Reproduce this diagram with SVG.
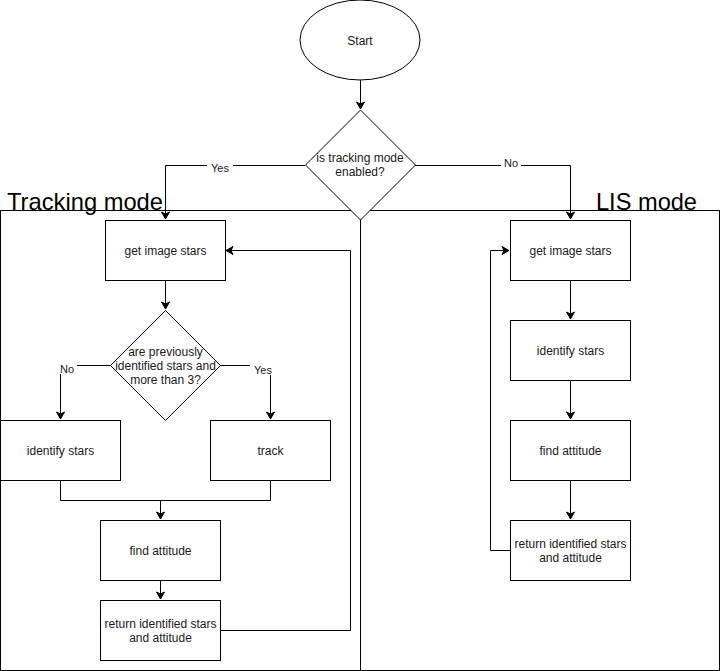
<svg xmlns="http://www.w3.org/2000/svg" width="721" height="671" viewBox="0 0 721 671">
<defs>
<style>
.s{fill:#fff;stroke:#000;stroke-width:1}
.t{font-family:"Liberation Sans",Arial,sans-serif;font-size:12px;fill:#1a1a1a;text-anchor:middle}
.l{font-family:"Liberation Sans",Arial,sans-serif;font-size:11px;fill:#1a1a1a;text-anchor:middle}
.h{font-family:"Liberation Sans",Arial,sans-serif;font-size:24px;fill:#000}
.c{fill:none;stroke:#000;stroke-width:1}
</style>
<marker id="a" markerWidth="10" markerHeight="10" refX="8" refY="5" orient="auto" markerUnits="userSpaceOnUse">
<path d="M1,1 L8,5 L1,9 L3,5 Z" fill="#000" stroke="#000"/>
</marker>
</defs>
<rect width="721" height="671" fill="#fff"/>
<g id="lanes">
<rect x="0.5" y="210.5" width="719" height="460" fill="none" stroke="#000"/>
<path d="M360.5,210.5 V670.5" fill="none" stroke="#000"/>
<text class="h" x="7" y="210" textLength="156" lengthAdjust="spacingAndGlyphs">Tracking mode</text>
<text class="h" x="596" y="210" textLength="101" lengthAdjust="spacingAndGlyphs">LIS mode</text>
</g>
<g id="connectors">
<path class="c" d="M360.5,80 V109" marker-end="url(#a)"/>
<path class="c" d="M305,165.5 H165.5 V219" marker-end="url(#a)"/>
<path class="c" d="M415,165.5 H570.5 V219" marker-end="url(#a)"/>
<path class="c" d="M165.5,280 V309" marker-end="url(#a)"/>
<path class="c" d="M110,365.5 H60.5 V419" marker-end="url(#a)"/>
<path class="c" d="M220,365.5 H270.5 V419" marker-end="url(#a)"/>
<path class="c" d="M60.5,480 V500.5 H270.5 V480"/>
<path class="c" d="M160.5,500.5 V519" marker-end="url(#a)"/>
<path class="c" d="M160.5,580 V599" marker-end="url(#a)"/>
<path class="c" d="M220,630.5 H350.5 V250.5 H226" marker-end="url(#a)"/>
<path class="c" d="M570.5,280 V319" marker-end="url(#a)"/>
<path class="c" d="M570.5,380 V419" marker-end="url(#a)"/>
<path class="c" d="M570.5,480 V519" marker-end="url(#a)"/>
<path class="c" d="M510,550.5 H490.5 V250.5 H509" marker-end="url(#a)"/>
<rect x="207" y="161" width="26" height="13" fill="#fff"/>
<text class="l" x="220" y="172">Yes</text>
<rect x="501" y="157" width="20" height="13" fill="#fff"/>
<text class="l" x="511" y="167">No</text>
<rect x="57" y="361" width="20" height="13" fill="#fff"/>
<text class="l" x="67" y="373">No</text>
<rect x="250" y="362" width="26" height="13" fill="#fff"/>
<text class="l" x="263" y="374">Yes</text>
</g>
<g id="start">
<ellipse class="s" cx="360" cy="40" rx="60" ry="40"/>
<text class="t" x="360" y="45">Start</text>
</g>
<g id="decision-mode">
<path class="s" d="M360.5,110 L415.5,165 L360.5,220 L305.5,165 Z"/>
<text class="t" x="360" y="162">is tracking mode</text>
<text class="t" x="360" y="176">enabled?</text>
</g>
<g id="t-get">
<rect class="s" x="105.5" y="220.5" width="120" height="60"/>
<text class="t" x="165.5" y="255">get image stars</text>
</g>
<g id="t-decision">
<path class="s" d="M165.5,310.5 L220.5,365.5 L165.5,420.5 L110.5,365.5 Z"/>
<text class="t" x="165.5" y="356">are previously</text>
<text class="t" x="165.5" y="370">identified stars and</text>
<text class="t" x="165.5" y="384">more than 3?</text>
</g>
<g id="t-identify">
<rect class="s" x="0.5" y="420.5" width="120" height="60"/>
<text class="t" x="60.5" y="455">identify stars</text>
</g>
<g id="t-track">
<rect class="s" x="210.5" y="420.5" width="120" height="60"/>
<text class="t" x="270.5" y="455">track</text>
</g>
<g id="t-find">
<rect class="s" x="100.5" y="520.5" width="120" height="60"/>
<text class="t" x="160.5" y="555">find attitude</text>
</g>
<g id="t-return">
<rect class="s" x="100.5" y="600.5" width="120" height="60"/>
<text class="t" x="160.5" y="628">return identified stars</text>
<text class="t" x="160.5" y="642">and attitude</text>
</g>
<g id="l-get">
<rect class="s" x="510.5" y="220.5" width="120" height="60"/>
<text class="t" x="570.5" y="255">get image stars</text>
</g>
<g id="l-identify">
<rect class="s" x="510.5" y="320.5" width="120" height="60"/>
<text class="t" x="570.5" y="355">identify stars</text>
</g>
<g id="l-find">
<rect class="s" x="510.5" y="420.5" width="120" height="60"/>
<text class="t" x="570.5" y="455">find attitude</text>
</g>
<g id="l-return">
<rect class="s" x="510.5" y="520.5" width="120" height="60"/>
<text class="t" x="570.5" y="548">return identified stars</text>
<text class="t" x="570.5" y="562">and attitude</text>
</g>
</svg>
